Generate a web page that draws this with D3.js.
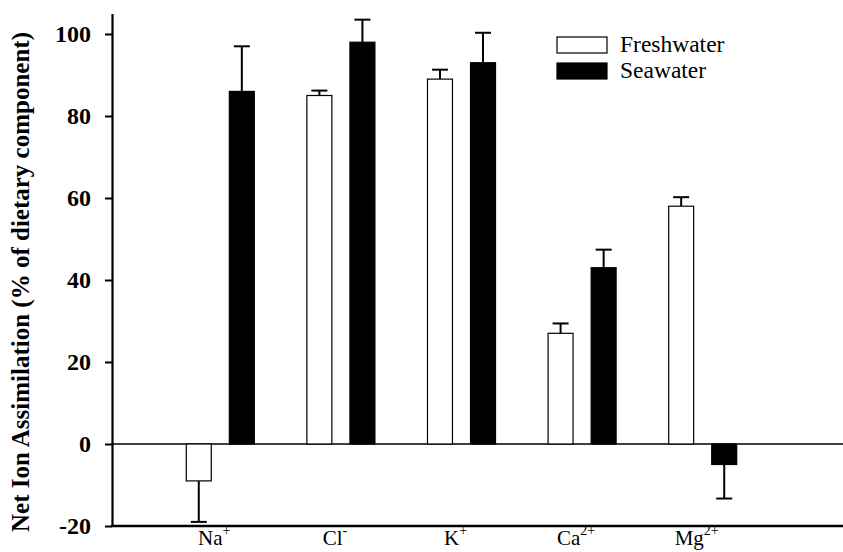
<!DOCTYPE html>
<html>
<head>
<meta charset="utf-8">
<script src="https://cdn.jsdelivr.net/npm/d3@7/dist/d3.min.js"></script>
<style>
  body { margin: 0; background: #fff; }
  svg text { font-family: "Liberation Serif", "Times New Roman", Tinos, "DejaVu Serif", serif; }
</style>
</head>
<body>
<div id="chart"></div>
<script>
// ion names + superscript charge
var ions = ['Na', 'Cl', 'K', 'Ca', 'Mg'];
var charges = ['+', '-', '+', '2+', '2+'];
var series = ['Freshwater', 'Seawater'];
var freshwater = [-9, 85, 89, 27, 58];
var freshwaterErr = [10, 1.2, 2.3, 2.4, 2.2];
var seawater = [86, 98, 93, 43, -5];
var seawaterErr = [11, 5.5, 7.3, 4.4, 8.3];
var yTicks = [-20, 0, 20, 40, 60, 80, 100];

var width = 843, height = 552,
    axisX = 112,
    serif = '"Liberation Serif", "Times New Roman", Tinos, "DejaVu Serif", serif';

var svg = d3.select('#chart')
  .append('svg')
  .attr('width', width)
  .attr('height', height)
  .attr('font-family', serif);

var x0 = d3.scaleBand()
  .domain(ions)
  .range([160, 763])
  .paddingInner(0.436)
  .paddingOuter(0.218);

var x1 = d3.scaleBand()
  .domain(series)
  .range([0, x0.bandwidth()])
  .paddingInner(0.42);

var y = d3.scaleLinear()
  .domain([-20, 105])
  .range([526, 13.5]);

var data = ions.map(function (ion, i) {
  return {
    ion: ion,
    values: [
      { key: 'Freshwater', value: freshwater[i], err: freshwaterErr[i] },
      { key: 'Seawater', value: seawater[i], err: seawaterErr[i] }
    ]
  };
});

function errEnd(d) {
  return y(d.value + (d.value < 0 ? -d.err : d.err));
}

// zero line
svg.append('line')
  .attr('x1', axisX).attr('x2', width)
  .attr('y1', y(0)).attr('y2', y(0))
  .attr('stroke', '#000')
  .attr('stroke-width', 1.5);

var group = svg.selectAll('g.group')
  .data(data).enter()
  .append('g')
  .attr('class', 'group')
  .attr('transform', function (d) { return 'translate(' + x0(d.ion) + ',0)'; });

// error bars (one-sided, away from zero)
var err = group.selectAll('g.err')
  .data(function (d) { return d.values; }).enter()
  .append('g')
  .attr('class', 'err');

err.append('line')
  .attr('x1', function (d) { return x1(d.key) + x1.bandwidth() / 2; })
  .attr('x2', function (d) { return x1(d.key) + x1.bandwidth() / 2; })
  .attr('y1', function (d) { return y(d.value); })
  .attr('y2', errEnd)
  .attr('stroke', '#000')
  .attr('stroke-width', 2);

err.append('line')
  .attr('x1', function (d) { return x1(d.key) + x1.bandwidth() / 2 - 8; })
  .attr('x2', function (d) { return x1(d.key) + x1.bandwidth() / 2 + 8; })
  .attr('y1', errEnd)
  .attr('y2', errEnd)
  .attr('stroke', '#000')
  .attr('stroke-width', 2);

group.selectAll('rect')
  .data(function (d) { return d.values; }).enter()
  .append('rect')
  .attr('x', function (d) { return x1(d.key); })
  .attr('y', function (d) { return y(Math.max(0, d.value)); })
  .attr('width', x1.bandwidth())
  .attr('height', function (d) { return Math.abs(y(d.value) - y(0)); })
  .attr('fill', function (d) { return d.key === 'Seawater' ? '#000' : '#fff'; })
  .attr('stroke', '#000')
  .attr('stroke-width', 1.2);

// y axis
var yAxis = svg.append('g')
  .attr('transform', 'translate(' + axisX + ',0)')
  .call(d3.axisLeft(y)
    .tickValues(yTicks)
    .tickFormat(function (d) { return String(d); })
    .tickSize(7).tickPadding(14).tickSizeOuter(0));

yAxis.attr('font-family', serif);
yAxis.select('.domain').attr('stroke-width', 2.2);
yAxis.selectAll('.tick line').attr('stroke-width', 2);
yAxis.selectAll('.tick text')
  .attr('font-weight', 'bold')
  .attr('font-size', 24)
  .attr('fill', '#000');

// bottom axis line
svg.append('line')
  .attr('x1', axisX - 1).attr('x2', width)
  .attr('y1', y(-20)).attr('y2', y(-20))
  .attr('stroke', '#000')
  .attr('stroke-width', 2.5);

// category labels with superscripts
var label = svg.selectAll('text.cat')
  .data(ions).enter()
  .append('text')
  .attr('class', 'cat')
  .attr('x', function (d) { return x0(d) + x0.bandwidth() / 2 - 6; })
  .attr('y', 545)
  .attr('text-anchor', 'middle')
  .attr('font-size', 21);

label.append('tspan').text(function (d) { return d; });
label.append('tspan')
  .attr('dy', -10)
  .attr('font-size', 14)
  .text(function (d, i) { return charges[i]; });

// y title
svg.append('text')
  .attr('transform', 'translate(29,282) rotate(-90)')
  .attr('text-anchor', 'middle')
  .attr('font-weight', 'bold')
  .attr('font-size', 25)
  .text('Net Ion Assimilation (% of dietary component)');

// legend
var legend = svg.selectAll('g.legend')
  .data(series).enter()
  .append('g')
  .attr('class', 'legend')
  .attr('transform', function (d, i) { return 'translate(557,' + (37 + i * 26) + ')'; });

legend.append('rect')
  .attr('width', 50)
  .attr('height', 16)
  .attr('fill', function (d) { return d === 'Seawater' ? '#000' : '#fff'; })
  .attr('stroke', '#000')
  .attr('stroke-width', 1.2);

legend.append('text')
  .attr('x', 63)
  .attr('y', 15)
  .attr('font-size', 23.5)
  .text(function (d) { return d; });
</script>
</body>
</html>
